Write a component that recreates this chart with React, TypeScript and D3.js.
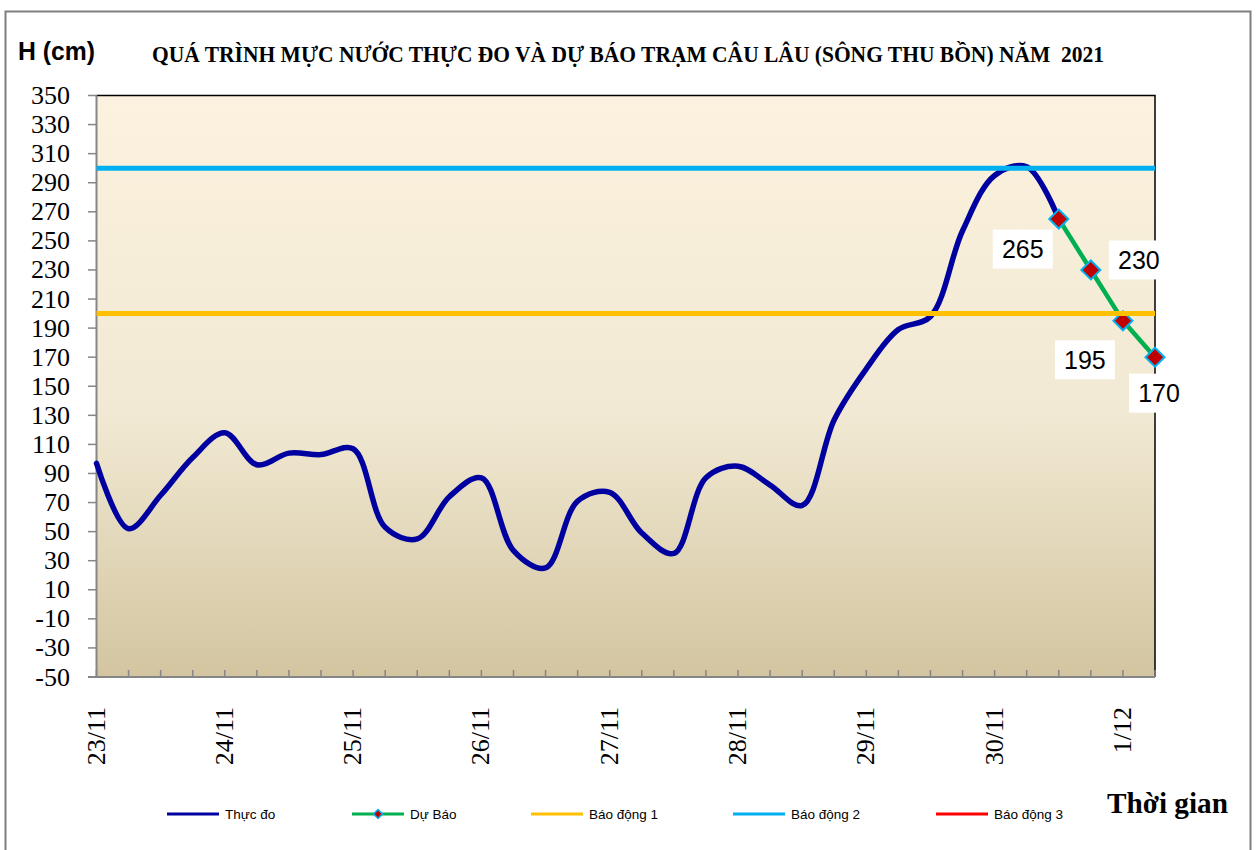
import React from "react";
import * as d3 from "d3";

// ---- data ----
const days = ["23/11", "24/11", "25/11", "26/11", "27/11", "28/11", "29/11", "30/11", "1/12"];
const stepsPerDay = 4;
const stepCount = 34;
const observed = [97, 52, 75, 101, 118, 96, 104, 103, 107, 53, 45, 74, 87, 37, 25, 71, 77, 49, 35, 87, 95, 82, 68, 127, 162, 189, 198, 257, 295, 301, 265];
const forecastStart = 30;
const forecast = [265, 230, 195, 170];
const alarm1 = 200;
const alarm2 = 300;
const yTicks = d3.range(-50, 351, 20);
const legendNames = ["Thực đo", "Dự Báo", "Báo động 1", "Báo động 2", "Báo động 3"];

// ---- layout / style ----
const W = 1256;
const H = 850;
const plot = { left: 96.5, right: 1155, top: 95.5, bottom: 677 };
const labelOffsets = [
  [-36, 30],
  [48, -10],
  [-38, 39],
  [4, 36],
];
const legendX = [167, 352, 531, 733, 936];
const colors = {
  observed: "#0000A0",
  forecast: "#00B050",
  marker: "#C00000",
  markerEdge: "#00B0F0",
  alarm1: "#FFC000",
  alarm2: "#00B0F0",
  alarm3: "#FF0000",
  axis: "#868686",
};

const categories = days
  .flatMap((d) => d3.range(stepsPerDay).map((k) => `${d}#${k}`))
  .slice(0, stepCount);

export default function App() {
  const x = d3.scalePoint<string>().domain(categories).range([plot.left, plot.right]).padding(0);
  const y = d3.scaleLinear().domain([-50, 350]).range([plot.bottom, plot.top]);

  const obsLine = d3
    .line<number>()
    .x((_, i) => x(categories[i]) as number)
    .y((v) => y(v))
    .curve(d3.curveCatmullRom.alpha(0.5));

  const fcPts = forecast.map((v, i) => [x(categories[forecastStart + i]) as number, y(v)] as [number, number]);
  const fcLine = d3.line()(fcPts) as string;

  const diamond = (cx: number, cy: number, r: number) =>
    `M${cx},${cy - r}L${cx + r},${cy}L${cx},${cy + r}L${cx - r},${cy}Z`;

  const legendY = 814;

  return (
    <svg
      width={W}
      height={H}
      style={{ position: "absolute", left: 0, top: 0, display: "block", background: "#fff" }}
    >
      <defs>
        <linearGradient id="bg" x1="0" y1="0" x2="0" y2="1">
          <stop offset="0" stopColor="#FCF2DF" />
          <stop offset="0.55" stopColor="#F1E9D3" />
          <stop offset="1" stopColor="#D3C5A0" />
        </linearGradient>
      </defs>
      <rect x={5.5} y={11.5} width={1245} height={850} fill="#fff" stroke="#7F7F7F" strokeWidth={2} />

      {/* title */}
      <text
        x={18}
        y={60}
        fontFamily="'Liberation Sans', Arial, sans-serif"
        fontWeight="bold"
        fontSize={25}
        textLength={77}
        lengthAdjust="spacingAndGlyphs"
      >
        H (cm)
      </text>
      <text
        x={152}
        y={61.5}
        fontFamily="'Liberation Serif', 'Times New Roman', serif"
        fontWeight="bold"
        fontSize={24}
        textLength={952}
        lengthAdjust="spacingAndGlyphs"
        style={{ whiteSpace: "pre" }}
      >
        QUÁ TRÌNH MỰC NƯỚC THỰC ĐO VÀ DỰ BÁO TRẠM CÂU LÂU (SÔNG THU BỒN) NĂM  2021
      </text>

      {/* plot background */}
      <rect
        x={plot.left}
        y={plot.top}
        width={plot.right - plot.left}
        height={plot.bottom - plot.top}
        fill="url(#bg)"
      />
      <path
        d={`M${plot.left},${plot.top}H${plot.right}V${plot.bottom}`}
        fill="none"
        stroke="#000"
        strokeWidth={1.5}
      />

      {/* y axis */}
      <line x1={plot.left} x2={plot.left} y1={plot.top} y2={plot.bottom} stroke={colors.axis} strokeWidth={2} />
      {yTicks.map((t) => (
        <g key={t}>
          <line x1={88} x2={plot.left} y1={y(t)} y2={y(t)} stroke={colors.axis} strokeWidth={1.5} />
          <text
            x={70}
            y={y(t) + 8.5}
            textAnchor="end"
            fontFamily="'Liberation Serif', 'Times New Roman', serif"
            fontSize={26}
          >
            {t}
          </text>
        </g>
      ))}

      {/* x axis */}
      <line x1={88} x2={plot.right} y1={plot.bottom} y2={plot.bottom} stroke={colors.axis} strokeWidth={2} />
      {categories.map((c) => (
        <line
          key={c}
          x1={x(c)}
          x2={x(c)}
          y1={plot.bottom}
          y2={plot.bottom - 7}
          stroke={colors.axis}
          strokeWidth={1.5}
        />
      ))}
      {categories.map((c, i) =>
        i % stepsPerDay === 0 ? (
          <text
            key={"l" + c}
            transform={`translate(${(x(c) as number) + 8},707) rotate(-90)`}
            textAnchor="end"
            fontFamily="'Liberation Serif', 'Times New Roman', serif"
            fontSize={26}
          >
            {c.split("#")[0]}
          </text>
        ) : null
      )}

      {/* observed */}
      <path
        d={obsLine(observed) as string}
        fill="none"
        stroke={colors.observed}
        strokeWidth={5.5}
        strokeLinejoin="round"
        strokeLinecap="round"
      />

      {/* forecast */}
      <path d={fcLine} fill="none" stroke={colors.forecast} strokeWidth={4.5} strokeLinejoin="round" />
      {fcPts.map(([px, py], i) => (
        <path
          key={"m" + i}
          d={diamond(px, py, 9.5)}
          fill={colors.marker}
          stroke={colors.markerEdge}
          strokeWidth={2}
        />
      ))}

      {/* alarm lines */}
      <line x1={plot.left} x2={plot.right} y1={y(alarm1)} y2={y(alarm1)} stroke={colors.alarm1} strokeWidth={5} />
      <line x1={plot.left} x2={plot.right} y1={y(alarm2)} y2={y(alarm2)} stroke={colors.alarm2} strokeWidth={5} />

      {/* data labels */}
      {fcPts.map(([px, py], i) => {
        const cx = px + labelOffsets[i][0];
        const cy = py + labelOffsets[i][1];
        return (
          <g key={"dl" + i}>
            <rect x={cx - 30} y={cy - 19.5} width={60} height={39} fill="#fff" />
            <text
              x={cx}
              y={cy + 9}
              textAnchor="middle"
              fontFamily="'Liberation Sans', Arial, sans-serif"
              fontSize={25}
            >
              {forecast[i]}
            </text>
          </g>
        );
      })}

      {/* legend */}
      {legendNames.map((name, i) => {
        const lx = legendX[i];
        const col = [colors.observed, colors.forecast, colors.alarm1, colors.alarm2, colors.alarm3][i];
        return (
          <g key={name}>
            <line x1={lx} x2={lx + 52} y1={legendY} y2={legendY} stroke={col} strokeWidth={3} />
            {i === 1 ? (
              <path d={diamond(lx + 26, legendY, 4.5)} fill={colors.marker} stroke={colors.markerEdge} strokeWidth={1.5} />
            ) : null}
            <text
              x={lx + 58}
              y={legendY + 5}
              fontFamily="'Liberation Sans', Arial, sans-serif"
              fontSize={13.5}
            >
              {name}
            </text>
          </g>
        );
      })}
      <text
        x={1107}
        y={813}
        fontFamily="'Liberation Serif', 'Times New Roman', serif"
        fontWeight="bold"
        fontSize={30}
        textLength={121}
        lengthAdjust="spacingAndGlyphs"
      >
        Thời gian
      </text>
    </svg>
  );
}
